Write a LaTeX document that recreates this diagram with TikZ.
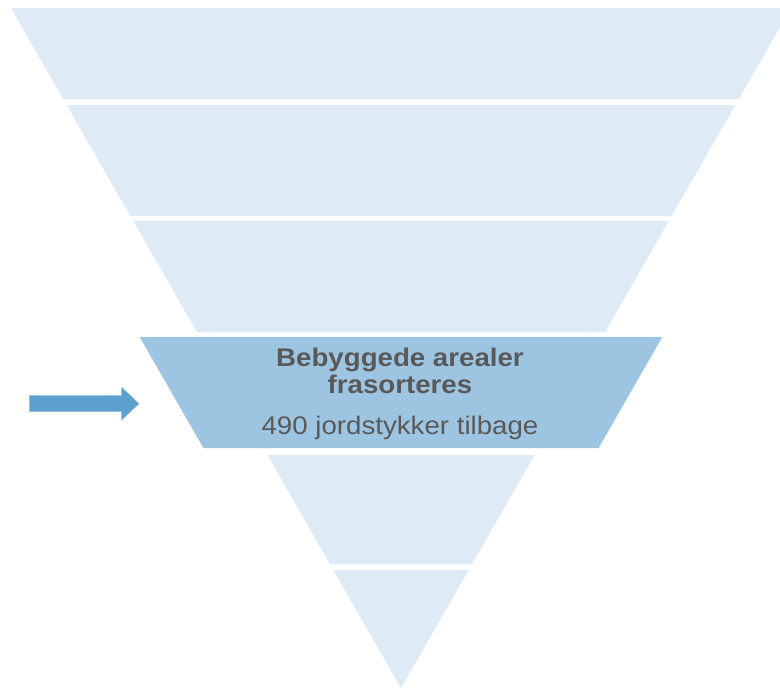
\documentclass[tikz,border=0pt]{standalone}
\usepackage{fontspec}
\setmainfont{Liberation Sans}[FakeStretch=1.085]
\definecolor{layerlight}{RGB}{222,235,246}
\definecolor{layerdark}{RGB}{157,197,226}
\definecolor{txtgray}{RGB}{89,89,89}
\definecolor{arrowblue}{RGB}{91,160,206}
\tikzset{
  lightlayer/.style={fill=layerlight, draw=none},
  darklayer/.style={fill=layerdark, draw=none},
  lbl/.style={anchor=base, text=txtgray, inner sep=0pt, font=\fontsize{25.5}{28}\selectfont},
  bluearrow/.style={fill=arrowblue, draw=arrowblue!70!white, line width=0.5pt}
}
\begin{document}
\begin{tikzpicture}[x=1pt,y=-1pt]
\useasboundingbox (0,0) rectangle (780,689);
\clip (0,0) rectangle (780,689);
% layers
\path[lightlayer] (11,8) -- (791,8) -- (738.8,99) -- (63.2,99) -- cycle;
\path[lightlayer] (66.6,105) -- (735.4,105) -- (671.7,216) -- (130.3,216) -- cycle;
\path[lightlayer] (133.2,221) -- (668.8,221) -- (605.2,332) -- (196.8,332) -- cycle;
\path[darklayer] (139.7,337) -- (662.3,337) -- (598.6,448) -- (203.4,448) -- cycle;
\path[lightlayer] (267.4,455) -- (534.6,455) -- (472.1,564) -- (329.9,564) -- cycle;
\path[lightlayer] (333.3,570) -- (468.7,570) -- (401,688) -- cycle;
% text
\node[lbl] (t1) at (400,366.7) {\bfseries Bebyggede arealer};
\node[lbl] (t2) at (400,393.3) {\bfseries frasorteres};
\node[lbl] (t3) at (400,434.3) {490 jordstykker tilbage};
% arrow
\path[bluearrow] (29.3,395.7) -- (121.7,395.7) -- (121.7,387.3) -- (139,403.7)
  -- (121.7,420) -- (121.7,411.7) -- (29.3,411.7) -- cycle;
\end{tikzpicture}
\end{document}
